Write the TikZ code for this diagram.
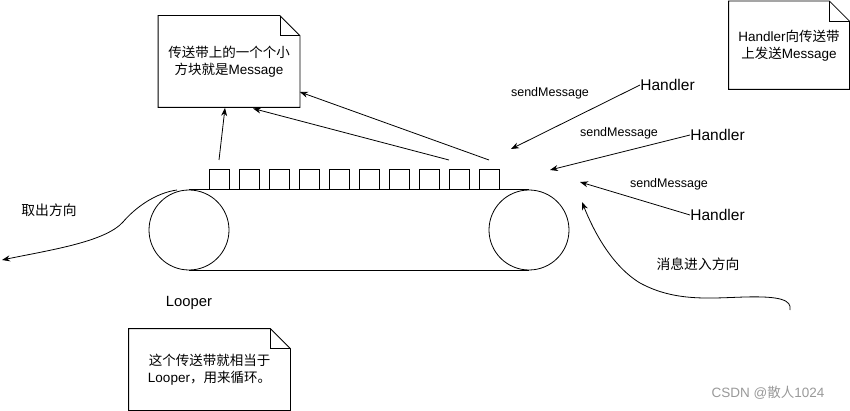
\documentclass[tikz,border=0pt]{standalone}
\usepackage{fontspec}
\setmainfont{Liberation Sans}
\newfontfamily\cjk{Noto Sans CJK SC}
\usetikzlibrary{arrows.meta}
\tikzset{
  arr/.style={-{Stealth[length=8pt,width=6pt]}},
  notenode/.style={inner sep=0pt, align=center, font=\fontsize{13.5}{17}\selectfont},
  boxsq/.style={draw, minimum size=20pt, inner sep=0pt, anchor=south west},
  roll/.style={draw, circle, minimum size=80pt, inner sep=0pt},
  hnd/.style={font=\fontsize{15.5}{18}\selectfont, inner sep=0pt, anchor=west},
  smsg/.style={font=\fontsize{12.5}{15}\selectfont, inner sep=0pt},
  lbl/.style={font=\fontsize{13.8}{16}\selectfont\cjk, inner sep=0pt},
}
\newcommand{\dogear}[1]{%
  \draw (#1.south west) -- (#1.south east) -- ([yshift=-20pt]#1.north east)
     -- ([xshift=-20pt]#1.north east) -- (#1.north west) -- cycle;
  \draw ([xshift=-20pt]#1.north east) -- ([xshift=-20pt,yshift=-20pt]#1.north east)
     -- ([yshift=-20pt]#1.north east);}
\begin{document}
\begin{tikzpicture}[x=1pt,y=-1pt,line width=0.8pt]
\useasboundingbox (0,0) rectangle (850,411);
% notes
\node[notenode, minimum width=141pt, minimum height=91pt] (n1) at (229,61.5)
  {{\cjk 传送带上的一个个小}\\{\cjk 方块就是}Message};
\dogear{n1}
\node[notenode, minimum width=161pt, minimum height=81pt] (n2) at (209.5,369.5)
  {{\cjk 这个传送带就相当于}\\Looper{\cjk ，用来循环。}};
\dogear{n2}
\node[notenode, minimum width=120pt, minimum height=87.5pt] (n3) at (789,45.25)
  {Handler{\cjk 向传送带}\\{\cjk 上发送}Message};
\dogear{n3}
% rollers and belt
\node[roll] (lc) at (189,230) {};
\node[roll] (rc) at (529,230) {};
\draw (lc.north) -- (rc.north);
\draw (lc.south) -- (rc.south);
\foreach \k in {0,...,9} {
  \node[boxsq] (sq\k) at (209+30*\k,190) {};
}
% arrows to note
\coordinate (a1) at (219,160);
\coordinate (a2) at (449,160);
\coordinate (a3) at (489,160);
\draw[arr] (a1) -- (225,108) coordinate (t1);
\draw[arr] (a2) -- (253,108.5) coordinate (t2);
\draw[arr] (a3) -- (n1.east |- 0,92);
% handlers
\node[hnd] (h1) at (640,85) {Handler};
\node[hnd] (h2) at (690,135) {Handler};
\node[hnd] (h3) at (690,215) {Handler};
\coordinate (e1) at (511,149);
\coordinate (e2) at (550,170);
\coordinate (e3) at (580,182);
\draw[arr] (h1.west) -- (e1);
\draw[arr] (h2.west) -- (e2);
\draw[arr] (h3.west) -- (e3);
\node[smsg] (s1) at (550,93) {sendMessage};
\node[smsg] (s2) at (619,133) {sendMessage};
\node[smsg] (s3) at (669,184) {sendMessage};
% direction curves
\coordinate (ls) at (177,190);
\coordinate (le) at (2,260);
\draw[arr] (ls) .. controls (155,193) and (135,208) .. (123,222)
  .. controls (105,242) and (50,250) .. (le);
\node[lbl] (out) at (49,210) {取出方向};
\coordinate (rs) at (790,310);
\coordinate (re) at (582,202);
\draw[arr] (rs) .. controls (792,300) and (780,296) .. (745,297)
  .. controls (710,298) and (675,302) .. (640,283)
  .. controls (612,266) and (594,232) .. (re);
\node[lbl] (in) at (698,264) {消息进入方向};
\node[font=\fontsize{14.8}{17}\selectfont, inner sep=0pt] (lp) at (189,303) {Looper};
\node[font=\fontsize{13.5}{16}\selectfont, text=black!40, inner sep=0pt] (wm) at (768,393)
  {CSDN @{\cjk 散人}1024};
\end{tikzpicture}
\end{document}
